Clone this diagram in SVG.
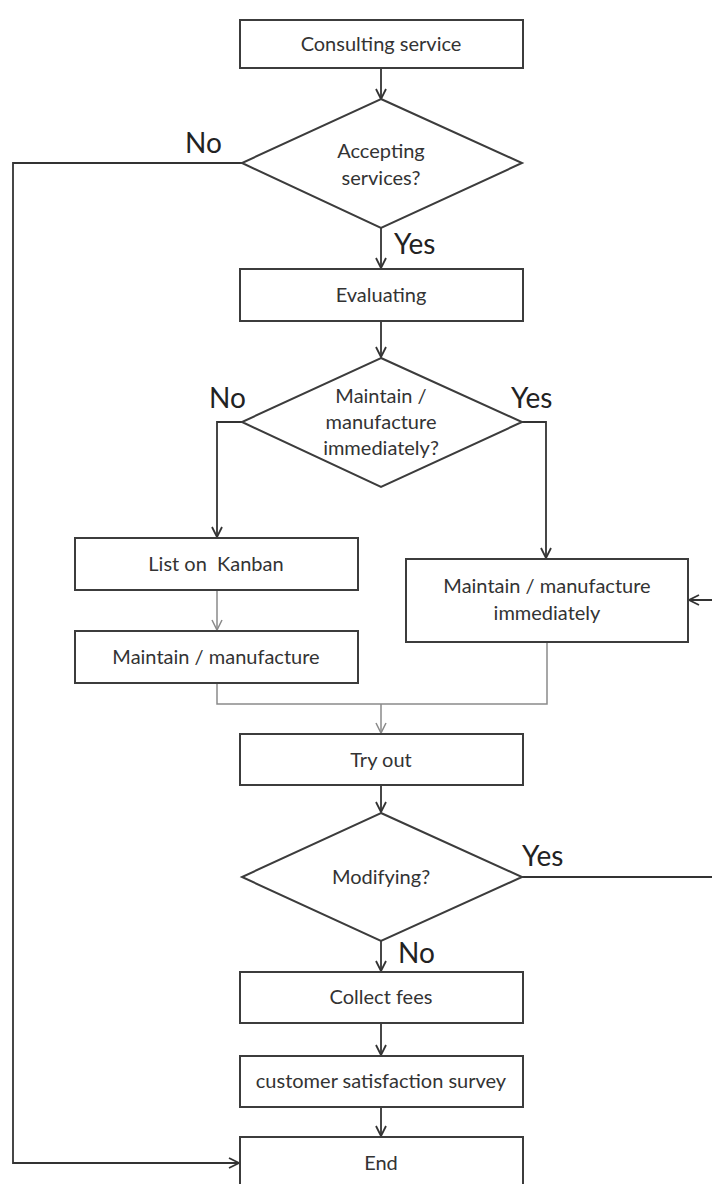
<svg xmlns="http://www.w3.org/2000/svg" width="712" height="1184" viewBox="0 0 712 1184">
  <style>
    .box { fill: #ffffff; stroke: #3c3c3c; stroke-width: 2; }
    .t { font-family: Lato, "Open Sans", "Liberation Sans", sans-serif; font-size: 20px; fill: #333333; text-anchor: middle; }
    .lbl { font-family: Lato, "Open Sans", "Liberation Sans", sans-serif; font-size: 28px; fill: #222222; }
    .c { fill: none; stroke: #333333; stroke-width: 1.8; }
    .cg { fill: none; stroke: #8a8a8a; stroke-width: 1.5; }
  </style>
  <defs>
    <marker id="arr" markerUnits="userSpaceOnUse" markerWidth="14" markerHeight="14" refX="11" refY="6" orient="auto">
      <path d="M1,1 L11,6 L1,11" fill="none" stroke="#333333" stroke-width="1.8"/>
    </marker>
    <marker id="arrg" markerUnits="userSpaceOnUse" markerWidth="14" markerHeight="14" refX="11" refY="6" orient="auto">
      <path d="M1,1 L11,6 L1,11" fill="none" stroke="#8a8a8a" stroke-width="1.5"/>
    </marker>
  </defs>
  <rect width="712" height="1184" fill="#ffffff"/>

  <!-- connectors -->
  <g id="connectors">
    <line class="c" x1="381" y1="68" x2="381" y2="99" marker-end="url(#arr)"/>
    <polyline class="c" points="242,163 13,163 13,1163 239,1163" marker-end="url(#arr)"/>
    <line class="c" x1="381" y1="228" x2="381" y2="268" marker-end="url(#arr)"/>
    <line class="c" x1="381" y1="321" x2="381" y2="357" marker-end="url(#arr)"/>
    <polyline class="c" points="242,422 217,422 217,537" marker-end="url(#arr)"/>
    <polyline class="c" points="522,422 546,422 546,558" marker-end="url(#arr)"/>
    <line class="cg" x1="217" y1="590" x2="217" y2="630" marker-end="url(#arrg)"/>
    <polyline class="cg" points="217,683 217,704 547,704 547,642"/>
    <line class="cg" x1="381" y1="704" x2="381" y2="733" marker-end="url(#arrg)"/>
    <line class="c" x1="381" y1="785" x2="381" y2="812" marker-end="url(#arr)"/>
    <polyline class="c" points="522,877 716,877 716,600 689,600" marker-end="url(#arr)"/>
    <line class="c" x1="381" y1="941" x2="381" y2="971" marker-end="url(#arr)"/>
    <line class="c" x1="381" y1="1023" x2="381" y2="1055" marker-end="url(#arr)"/>
    <line class="c" x1="381" y1="1107" x2="381" y2="1136" marker-end="url(#arr)"/>
  </g>

  <!-- branch labels -->
  <g id="labels">
    <text class="lbl" x="185" y="153">No</text>
    <text class="lbl" x="394" y="254">Yes</text>
    <text class="lbl" x="209" y="408">No</text>
    <text class="lbl" x="511" y="408">Yes</text>
    <text class="lbl" x="522" y="866">Yes</text>
    <text class="lbl" x="398" y="963">No</text>
  </g>

  <g id="consulting">
    <rect class="box" x="240" y="20" width="283" height="48"/>
    <text class="t" x="381" y="51">Consulting service</text>
  </g>
  <g id="accepting">
    <polygon class="box" points="381,99 522,163 381,228 242,163"/>
    <text class="t" x="381" y="158">Accepting</text>
    <text class="t" x="381" y="185">services?</text>
  </g>
  <g id="evaluating">
    <rect class="box" x="240" y="269" width="283" height="52"/>
    <text class="t" x="381" y="302">Evaluating</text>
  </g>
  <g id="decide-immediate">
    <polygon class="box" points="381,358 522,422 381,487 242,422"/>
    <text class="t" x="381" y="403">Maintain /</text>
    <text class="t" x="381" y="429">manufacture</text>
    <text class="t" x="381" y="455">immediately?</text>
  </g>
  <g id="kanban">
    <rect class="box" x="75" y="538" width="283" height="52"/>
    <text class="t" x="216" y="571" xml:space="preserve">List on  Kanban</text>
  </g>
  <g id="maintain">
    <rect class="box" x="75" y="631" width="283" height="52"/>
    <text class="t" x="216" y="664">Maintain / manufacture</text>
  </g>
  <g id="maintain-immediate">
    <rect class="box" x="406" y="559" width="282" height="83"/>
    <text class="t" x="547" y="593">Maintain / manufacture</text>
    <text class="t" x="547" y="620">immediately</text>
  </g>
  <g id="try-out">
    <rect class="box" x="240" y="734" width="283" height="51"/>
    <text class="t" x="381" y="767">Try out</text>
  </g>
  <g id="modifying">
    <polygon class="box" points="381,813 522,877 381,941 242,877"/>
    <text class="t" x="381" y="884">Modifying?</text>
  </g>
  <g id="collect-fees">
    <rect class="box" x="240" y="972" width="283" height="51"/>
    <text class="t" x="381" y="1004">Collect fees</text>
  </g>
  <g id="survey">
    <rect class="box" x="240" y="1056" width="283" height="51"/>
    <text class="t" x="381" y="1088">customer satisfaction survey</text>
  </g>
  <g id="end">
    <rect class="box" x="240" y="1137" width="283" height="52"/>
    <text class="t" x="381" y="1170">End</text>
  </g>
</svg>
